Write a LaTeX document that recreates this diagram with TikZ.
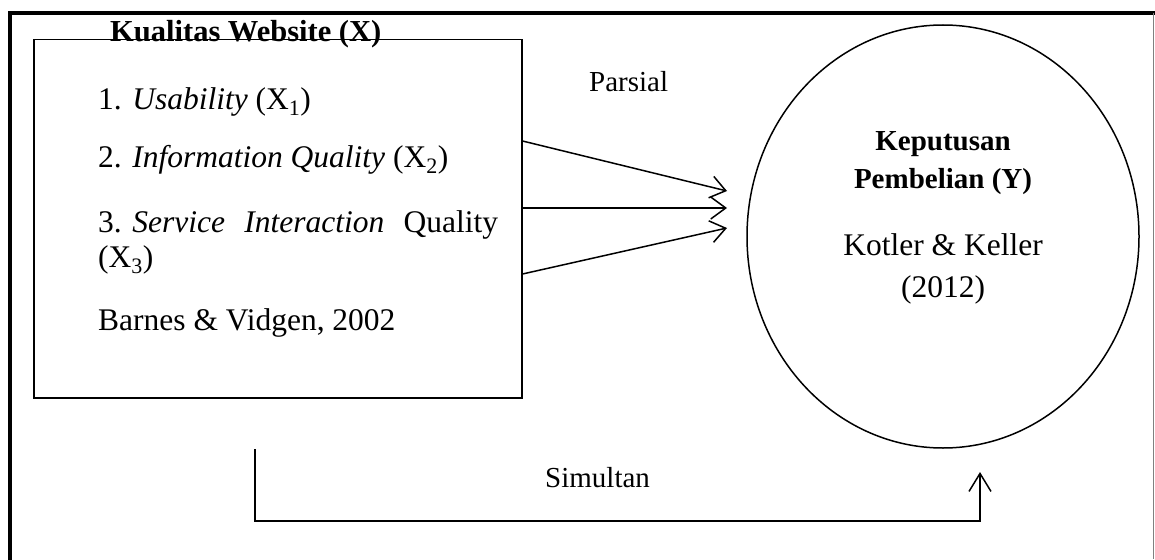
\documentclass[tikz,border=0pt]{standalone}
\usepackage{fontspec}
\setmainfont{Liberation Serif}
\usetikzlibrary{arrows.meta,shapes.geometric}
\begin{document}
\begin{tikzpicture}[x=1pt,y=-1pt,
  txt/.style={inner sep=0pt,anchor=base west,font=\fontsize{31.5}{38}\selectfont},
  ctxt/.style={inner sep=0pt,anchor=base,font=\fontsize{31.5}{38}\selectfont},
  btxt/.style={inner sep=0pt,anchor=base,font=\fontsize{29}{35}\selectfont\bfseries},
  lbl/.style={inner sep=0pt,anchor=base west,font=\fontsize{29}{35}\selectfont},
  boxx/.style={draw,line width=1.5pt,inner sep=0pt,anchor=north west},
  oval/.style={draw,ellipse,line width=1.5pt,inner sep=0pt},
  arr/.style={line width=1.5pt,-{Straight Barb[length=15pt,width=22pt,line width=1.5pt]}},
  arrs/.style={line width=1.5pt,-{Straight Barb[length=18pt,width=22pt,line width=1.5pt]}}]
\useasboundingbox (0,0) rectangle (1155,559);
% outer frame
\draw[line width=4pt,line cap=rect] (10,559) -- (10,13) -- (1153,13);
\draw[line width=1.5pt,gray] (1153.5,13) -- (1153.5,559);
% box
\node[boxx,minimum width=488pt,minimum height=358pt] (kw) at (33,39) {};
\node[txt,font=\fontsize{30.5}{37}\selectfont\bfseries] (title) at (110,42) {Kualitas Website (X)};
\node[txt] (i1) at (98,110) {1. \textit{Usability} (X\textsubscript{1})};
\node[txt] (i2) at (98,167) {2. \textit{Information Quality} (X\textsubscript{2})};
\node[txt] (i3) at (98,232) {\hbox to 400pt{3. \textit{Service}\hfill\textit{Interaction}\hfill Quality}};
\node[txt] (i3b) at (98,267) {(X\textsubscript{3})};
\node[txt] (src) at (98,330) {Barnes \& Vidgen, 2002};
% ellipse
\node[oval,minimum width=392pt,minimum height=423pt] (kp) at (943,236.5) {};
\node[btxt] (y1) at (943,150) {Keputusan};
\node[btxt] (y2) at (943,188) {Pembelian (Y)};
\node[ctxt] (y3) at (943,255) {Kotler \& Keller};
\node[ctxt] (y4) at (943,297) {(2012)};
% partial arrows
\node[lbl] (parsial) at (589,92) {Parsial};
\coordinate (s1) at (kw.east |- 0,141);
\coordinate (s2) at (kw.east |- 0,208);
\coordinate (s3) at (kw.east |- 0,274);
\coordinate (t1) at (727,191);
\coordinate (t2) at (727,208);
\coordinate (t3) at (727,228);
\draw[arr] (s1) -- (t1);
\draw[arr] (s2) -- (t2);
\draw[arr] (s3) -- (t3);
% simultaneous arrow
\coordinate (u1) at (255,449);
\coordinate (u2) at (980,472);
\draw[arrs] (u1) -- (255,521) -- (980,521) -- (u2);
\node[lbl] (simultan) at (545,487) {Simultan};
\end{tikzpicture}
\end{document}
